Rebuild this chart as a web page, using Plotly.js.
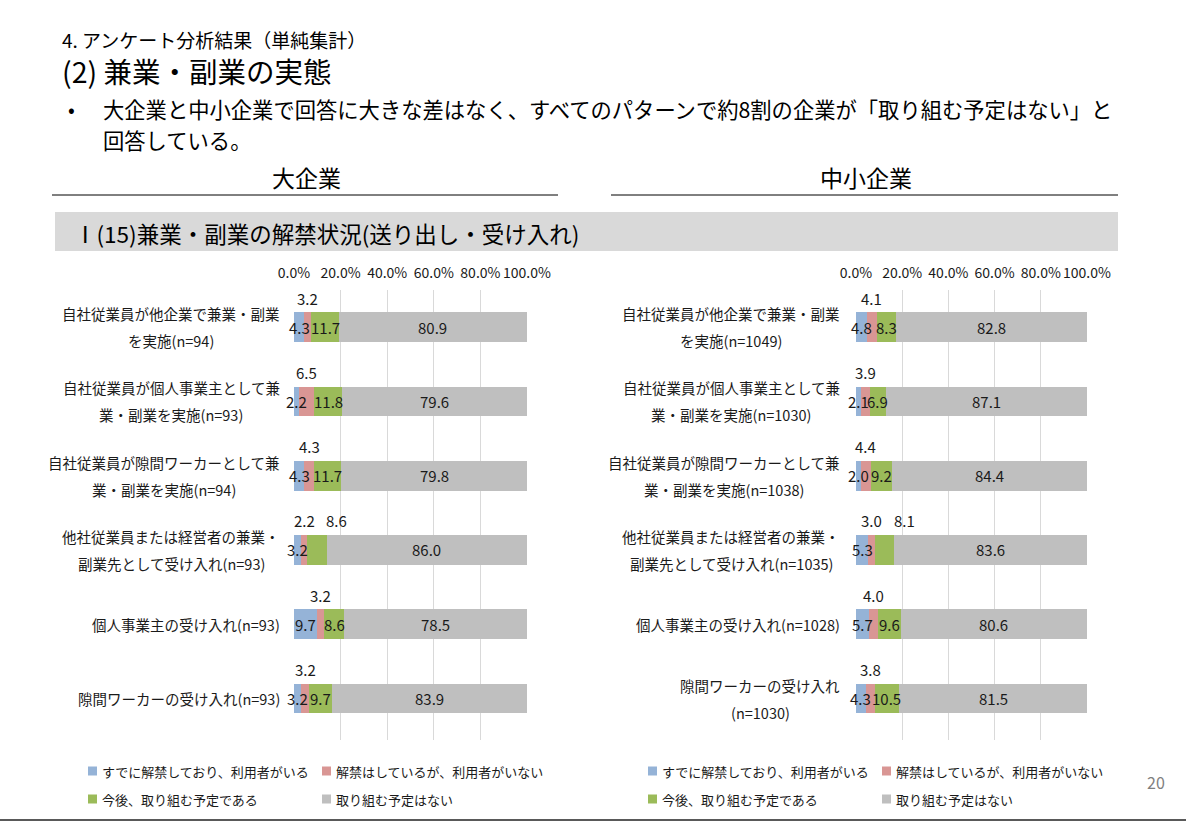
<!DOCTYPE html>
<html><head><meta charset="utf-8">
<script src="https://cdn.plot.ly/plotly-3.0.1.min.js"></script>
<style>html,body{margin:0;padding:0;background:#fff;} #chart{width:1186px;height:821px;}</style>
</head><body><div id="chart"></div>
<script>
// ---------- DATA ----------
const seriesNames = ['すでに解禁しており、利用者がいる', '解禁はしているが、利用者がいない', '今後、取り組む予定である', '取り組む予定はない'];

const largeCategories = [
  '自社従業員が他企業で兼業・副業<br>を実施(n=94)',
  '自社従業員が個人事業主として兼<br>業・副業を実施(n=93)',
  '自社従業員が隙間ワーカーとして兼<br>業・副業を実施(n=94)',
  '他社従業員または経営者の兼業・<br>副業先として受け入れ(n=93)',
  '個人事業主の受け入れ(n=93)',
  '隙間ワーカーの受け入れ(n=93)'
];
const largeBlue  = [4.3, 2.2, 4.3, 3.2, 9.7, 3.2];
const largePink  = [3.2, 6.5, 4.3, 2.2, 3.2, 3.2];
const largeGreen = [11.7, 11.8, 11.7, 8.6, 8.6, 9.7];
const largeGray  = [80.9, 79.6, 79.8, 86.0, 78.5, 83.9];

const smeCategories = [
  '自社従業員が他企業で兼業・副業<br>を実施(n=1049)',
  '自社従業員が個人事業主として兼<br>業・副業を実施(n=1030)',
  '自社従業員が隙間ワーカーとして兼<br>業・副業を実施(n=1038)',
  '他社従業員または経営者の兼業・<br>副業先として受け入れ(n=1035)',
  '個人事業主の受け入れ(n=1028)',
  '隙間ワーカーの受け入れ<br>(n=1030)'
];
const smeBlue  = [4.8, 2.1, 2.0, 5.3, 5.7, 4.3];
const smePink  = [4.1, 3.9, 4.4, 3.0, 4.0, 3.8];
const smeGreen = [8.3, 6.9, 9.2, 8.1, 9.6, 10.5];
const smeGray  = [82.8, 87.1, 84.4, 83.6, 80.6, 81.5];

const tickVals = [0, 20, 40, 60, 80, 100];
const tickLabels = ['0.0%', '20.0%', '40.0%', '60.0%', '80.0%', '100.0%'];

// ---------- STYLE ----------
const W = 1186, H = 821;
const FONT = '"Noto Sans CJK JP", "Noto Sans", sans-serif';
const colors = ['#95b3d7', '#d99694', '#9bbb59', '#bfbfbf'];
const px = x => x / W;
const py = y => 1 - y / H;

const panels = [
  {cats: largeCategories, vals: [largeBlue, largePink, largeGreen, largeGray], xa: 'x', ya: 'y', dom: [294, 527], labelRight: 280, legendX: [88, 322]},
  {cats: smeCategories, vals: [smeBlue, smePink, smeGreen, smeGray], xa: 'x2', ya: 'y2', dom: [856, 1087], labelRight: 840, legendX: [648, 882]}
];

const traces = [];
const annotations = [];
const shapes = [];

const canvas = document.createElement('canvas');
const ctx = canvas.getContext('2d');
const CAT_FS = 14.5;
ctx.font = CAT_FS + 'px "Noto Sans CJK JP"';

panels.forEach((p, pi) => {
  p.vals.forEach((arr, si) => {
    traces.push({
      type: 'bar', orientation: 'h',
      x: arr, y: p.cats,
      xaxis: p.xa, yaxis: p.ya,
      name: seriesNames[si],
      marker: {color: colors[si], line: {width: 0}},
      textposition: 'none',
      showlegend: false,
      hovertemplate: '%{y}: %{x:.1f}<extra>' + seriesNames[si] + '</extra>'
    });
  });
  // data labels
  p.cats.forEach((c, ci) => {
    let cum = 0;
    p.vals.forEach((arr, si) => {
      const v = arr[ci];
      const center = cum + v / 2;
      cum += v;
      let yshift = 0, xshift = 0;
      if (si === 1) yshift = 29;
      if (si === 2 && ci === 3) { yshift = 29; xshift = 20; }
      annotations.push({
        xref: p.xa, yref: p.ya, x: center, y: c,
        text: v.toFixed(1), showarrow: false,
        xanchor: 'center', yanchor: 'middle',
        xshift: xshift, yshift: yshift,
        font: {family: FONT, size: 15, color: '#1a1a1a'}
      });
    });
    // category labels, each line separately with wide spacing
    const lines = c.split('<br>');
    const widths = lines.map(l => ctx.measureText(l).width);
    const bw = Math.max(...widths);
    const cx = p.labelRight - bw / 2;
    lines.forEach((l, li) => {
      annotations.push({
        xref: 'paper', yref: p.ya, x: px(cx), y: c,
        text: l, showarrow: false, xanchor: 'center', yanchor: 'middle',
        yshift: ((lines.length - 1) / 2 - li) * 27,
        font: {family: FONT, size: CAT_FS, color: '#1a1a1a'}
      });
    });
  });
  // legend (manual 2x2)
  seriesNames.forEach((n, si) => {
    const lx = p.legendX[si % 2];
    const ly = si < 2 ? 771 : 799;
    shapes.push({type: 'rect', xref: 'paper', yref: 'paper',
      x0: px(lx), x1: px(lx + 9), y0: py(ly + 4.5), y1: py(ly - 4.5),
      fillcolor: colors[si], line: {width: 0}});
    annotations.push({xref: 'paper', yref: 'paper', x: px(lx + 12), y: py(ly),
      text: n, showarrow: false, xanchor: 'left', yanchor: 'middle',
      font: {family: FONT, size: 13, color: '#1a1a1a'}});
  });
});

// header texts
function txt(x, y, t, size, anchor, color) {
  annotations.push({xref: 'paper', yref: 'paper', x: px(x), y: py(y), text: t,
    showarrow: false, xanchor: anchor || 'left', yanchor: 'middle',
    font: {family: FONT, size: size, color: color || '#000'}});
}
txt(60, 40, '4. アンケート分析結果（単純集計）', 19);
txt(60, 70, '(2) 兼業・副業の実態', 28.5);
txt(66, 108.5, '•', 20);
txt(101, 108.5, '大企業と中小企業で回答に大きな差はなく、すべてのパターンで約8割の企業が「取り組む予定はない」と', 21.3);
txt(101, 139.5, '回答している。', 21.3);
txt(306, 177, '大企業', 23, 'center');
txt(866, 177, '中小企業', 23, 'center');
txt(72, 233, 'Ⅰ(15)兼業・副業の解禁状況(送り出し・受け入れ)', 22.5);
txt(1156, 782, '20', 16, 'center', '#7f7f7f');

shapes.push({type: 'rect', xref: 'paper', yref: 'paper', x0: px(55), x1: px(1118), y0: py(251), y1: py(212), fillcolor: '#d9d9d9', line: {width: 0}, layer: 'below'});
shapes.push({type: 'line', xref: 'paper', yref: 'paper', x0: px(52), x1: px(558), y0: py(195), y1: py(195), line: {color: '#000', width: 1}});
shapes.push({type: 'line', xref: 'paper', yref: 'paper', x0: px(611), x1: px(1118), y0: py(195), y1: py(195), line: {color: '#000', width: 1}});
shapes.push({type: 'line', xref: 'paper', yref: 'paper', x0: 0, x1: 1, y0: py(820), y1: py(820), line: {color: '#595959', width: 2}});

function xaxisCfg(dom) {
  return {
    domain: [px(dom[0]), px(dom[1])], range: [0, 100], side: 'top',
    tickmode: 'array', tickvals: tickVals, ticktext: tickLabels,
    showgrid: true, gridcolor: '#d9d9d9', gridwidth: 1,
    zeroline: false, showline: false, ticks: '',
    ticklabelstandoff: 8,
    tickfont: {family: FONT, size: 14, color: '#1a1a1a'},
    fixedrange: true
  };
}
function yaxisCfg(cats, anchor) {
  return {
    domain: [py(740), py(290)], type: 'category', categoryarray: cats,
    autorange: 'reversed', showticklabels: false, showgrid: false,
    zeroline: false, showline: false, ticks: '', anchor: anchor, fixedrange: true
  };
}

const layout = {
  width: W, height: H,
  margin: {l: 0, r: 0, t: 0, b: 0},
  paper_bgcolor: '#fff', plot_bgcolor: 'rgba(0,0,0,0)',
  barmode: 'stack', bargap: 0.6,
  showlegend: false,
  xaxis: Object.assign(xaxisCfg(panels[0].dom), {anchor: 'y'}),
  yaxis: yaxisCfg(largeCategories, 'x'),
  xaxis2: Object.assign(xaxisCfg(panels[1].dom), {anchor: 'y2'}),
  yaxis2: yaxisCfg(smeCategories, 'x2'),
  annotations: annotations,
  shapes: shapes,
  font: {family: FONT}
};

Plotly.newPlot('chart', traces, layout, {displayModeBar: false});
</script>
</body></html>
